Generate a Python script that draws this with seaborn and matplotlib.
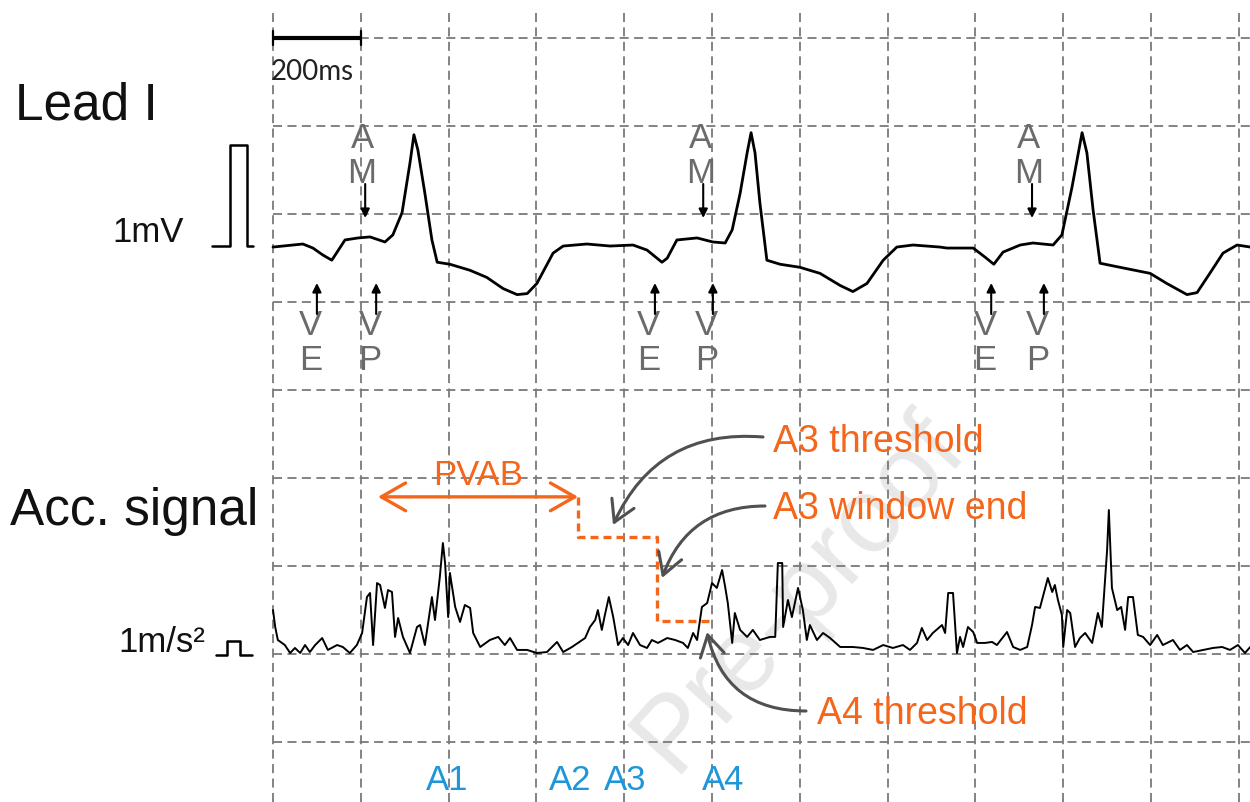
import numpy as np
import matplotlib
matplotlib.use("Agg")
import matplotlib.pyplot as plt
import seaborn as sns

# time grid: 200 ms per division
grid_ms = np.arange(0, 2201, 200)
grid_div = np.arange(0, 9)

# lead I trace (ms, mV)
ecg_t = [0, 68, 91, 114, 134, 146, 164, 194, 221, 255, 273, 294, 312, 321, 330, 346, 362, 374,
         403, 449, 487, 524, 556, 579, 601, 638, 661, 715, 768, 820, 852, 886, 898, 920, 966,
         1002, 1030, 1046, 1064, 1080, 1089, 1098, 1109, 1125, 1155, 1200, 1246, 1292, 1321,
         1353, 1390, 1421, 1458, 1519, 1535, 1595, 1622, 1642, 1663, 1702, 1731, 1777, 1797,
         1820, 1843, 1854, 1868, 1884, 1929, 1998, 2036, 2082, 2105, 2134, 2164, 2196, 2226]
ecg_mv = [-0.01, 0.02, -0.02, -0.09, -0.14, -0.06, 0.06, 0.08, 0.09, 0.04, 0.11, 0.33, 0.82, 1.10,
          0.95, 0.52, 0.06, -0.16, -0.18, -0.24, -0.31, -0.42, -0.48, -0.47, -0.37, -0.07, 0.0,
          0.02, 0.0, 0.01, -0.04, -0.16, -0.12, 0.06, 0.08, 0.04, 0.03, 0.16, 0.52, 0.92, 1.12,
          0.92, 0.43, -0.14, -0.18, -0.21, -0.27, -0.39, -0.45, -0.37, -0.14, -0.01, 0.01, -0.01,
          -0.02, -0.02, -0.11, -0.18, -0.06, 0.01, 0.03, 0.01, 0.11, 0.58, 1.12, 0.92, 0.36,
          -0.17, -0.21, -0.27, -0.37, -0.48, -0.46, -0.27, -0.07, 0.01, -0.01]

# accelerometer trace (ms, m/s^2)
acc_t = [0, 5, 11, 27, 39, 50, 62, 73, 84, 96, 112, 125, 146, 159, 175, 191, 203, 214, 221, 228,
         237, 244, 255, 262, 271, 278, 285, 296, 312, 328, 335, 346, 362, 369, 380, 387, 392, 399,
         403, 415, 426, 437, 449, 456, 472, 494, 513, 528, 540, 556, 579, 601, 624, 647, 661, 681,
         711, 722, 734, 740, 749, 756, 765, 775, 786, 797, 809, 820, 836, 852, 863, 877, 898, 916,
         934, 945, 957, 966, 977, 989, 1000, 1011, 1023, 1030, 1036, 1046, 1052, 1064, 1080, 1093,
         1109, 1132, 1144, 1150, 1160, 1162, 1173, 1182, 1196, 1207, 1216, 1223, 1239, 1253, 1269,
         1292, 1321, 1344, 1367, 1390, 1412, 1435, 1451, 1467, 1478, 1490, 1503, 1524, 1531, 1538,
         1549, 1558, 1565, 1572, 1583, 1595, 1604, 1622, 1638, 1649, 1672, 1686, 1702, 1718, 1729,
         1736, 1747, 1759, 1765, 1775, 1781, 1788, 1797, 1800, 1809, 1816, 1827, 1838, 1850, 1866,
         1879, 1888, 1900, 1904, 1911, 1923, 1932, 1941, 1948, 1959, 1970, 1982, 1998, 2014, 2027,
         2050, 2066, 2082, 2096, 2119, 2141, 2162, 2180, 2198, 2214, 2226]
acc_a = [3.21, 2.0, 1.07, 0.71, 0.14, 0.5, 0.14, 0.71, 0.21, 0.71, 1.21, 0.36, 0.71, 0.57, 0.14,
         0.71, 1.57, 4.14, 4.43, 0.71, 5.14, 5.0, 3.36, 4.64, 4.5, 1.29, 2.64, 1.29, 0.14, 2.0,
         2.14, 0.71, 4.14, 2.5, 5.57, 8.0, 6.57, 2.71, 5.86, 3.43, 2.36, 3.57, 3.36, 1.57, 0.57,
         1.07, 1.29, 0.71, 1.21, 0.36, 0.36, 0.14, 0.21, 0.93, 0.21, 0.57, 1.21, 2.0, 2.5, 3.21,
         1.79, 2.86, 4.14, 2.71, 0.71, 1.21, 0.71, 1.57, 0.71, 0.5, 1.07, 0.86, 1.21, 1.07, 0.86,
         0.5, 1.57, 1.07, 3.43, 3.71, 5.14, 4.79, 6.07, 4.86, 3.71, 0.86, 3.0, 1.79, 1.29, 1.79,
         1.07, 1.29, 1.29, 6.57, 6.57, 2.0, 3.93, 2.71, 4.79, 3.21, 1.07, 2.14, 1.07, 1.57, 1.21,
         0.57, 0.57, 0.5, 0.36, 0.71, 0.5, 0.71, 0.36, 0.86, 1.93, 1.07, 1.57, 2.14, 1.57, 4.43,
         4.43, 0.14, 1.29, 0.57, 2.0, 1.64, 0.86, 0.86, 0.93, 0.71, 1.64, 0.57, 0.36, 0.57, 2.14,
         3.43, 3.36, 4.79, 5.5, 4.5, 5.0, 3.93, 2.86, 0.57, 3.21, 3.0, 0.57, 1.21, 1.57, 0.86,
         3.0, 2.0, 7.5, 10.36, 4.79, 3.21, 3.43, 1.79, 4.14, 4.14, 1.43, 1.29, 0.71, 1.43, 0.71,
         1.07, 0.36, 0.71, 0.21, 0.36, 0.5, 0.57, 0.36, 0.71, 0.14, 0.57]

# pacing / sensing markers (ms)
am_times = [210, 980, 1729]
ve_times = [100, 870, 1636]
vp_times = [235, 1002, 1756]

# PVAB window and thresholds (ms, m/s^2)
pvab_t = [239, 695]
a3_end = 875
a4_end = 995
pvab_level = 11.3
a3_thr = 8.4
a4_thr = 2.4

acc_labels = ["A1", "A2", "A3", "A4"]
acc_label_t = [396, 677, 802, 1025]

# trace placement on the grid (in divisions)
ECG_BASE, ECG_SCALE = 5.636, 1.15
ACC_BASE, ACC_SCALE = 0.989, 0.159

GREY = "#6b6b6b"
ORANGE = "#f4661b"
BLUE = "#1e96d9"
DARK = "#505050"


def px(x, y):
    # reference pixel -> data (ms, divisions)
    return (x - 273) * 200 / 87.8, (742 - y) / 88


sns.set_theme(style="white")
plt.rcParams["font.family"] = ["Liberation Sans", "DejaVu Sans"]

fig = plt.figure(figsize=(12.5, 8.02), dpi=100)
ax = fig.add_axes([0, 0, 1, 1])
x0, y0 = px(0, 802)
x1, y1 = px(1250, 0)
ax.set_xlim(x0, x1)
ax.set_ylim(y0, y1)
ax.set_axis_off()

# watermark
wx, wy = px(800, 592)
ax.text(wx, wy, "Pre-proof", rotation=48, rotation_mode="anchor", ha="center", va="center",
        fontsize=76, color="#e8e8e8", zorder=0)

# dashed grid
ax.vlines(grid_ms, y0, px(0, 8)[1], colors="#7a7a7a", linestyles=(0, (5, 3)), lw=1.3, zorder=1)
ax.hlines(grid_div, 0, x1, colors="#7a7a7a", linestyles=(0, (5, 3)), lw=1.3, zorder=1)

# scale bar 200 ms
ax.plot([0, 200], [8, 8], color="black", lw=3, solid_capstyle="butt", zorder=3)
for t in [0, 200]:
    ax.plot([t, t], [7.92, 8.08], color="black", lw=1.6, zorder=3)
tx, ty = px(271, 80)
ax.text(tx, ty, "200ms", fontsize=20, family=["Lato", "DejaVu Sans"], color="#222222", va="baseline")

# traces
ecg_y = ECG_BASE + np.array(ecg_mv) * ECG_SCALE
acc_y = ACC_BASE + np.array(acc_a) * ACC_SCALE
sns.lineplot(x=ecg_t, y=ecg_y, ax=ax, color="black", lw=2.0, estimator=None, sort=False, zorder=4)
sns.lineplot(x=acc_t, y=acc_y, ax=ax, color="black", lw=1.4, estimator=None, sort=False, zorder=4)

# calibration pulses
cal_t = [-139, -98, -98, -59, -59, -46]
cal_step = np.array([0, 0, 1, 1, 0, 0])
ax.plot(cal_t, ECG_BASE + cal_step * 1.0 * ECG_SCALE, color="black", lw=1.8)
acc_cal_t = [-130, -105, -105, -75, -75, -48]
ax.plot(acc_cal_t, ACC_BASE + cal_step * 1.0 * ACC_SCALE, color="black", lw=1.8)

# left labels
for (x, y), s, size, ha in [((15, 120), "Lead I", 37, "left"),
                            ((10, 525), "Acc. signal", 37, "left"),
                            ((184, 242), "1mV", 25, "right"),
                            ((205, 652), "1m/s²", 25, "right")]:
    lx, ly = px(x, y)
    ax.text(lx, ly, s, fontsize=size, ha=ha, va="baseline", color="#111111")

# AM / VE / VP markers
arrow_kw = dict(arrowstyle="-|>", color="black", lw=1.5, mutation_scale=13, shrinkA=0, shrinkB=0)
for t in am_times:
    ax.annotate("", xy=(t, px(0, 218)[1]), xytext=(t, px(0, 184)[1]), arrowprops=arrow_kw, zorder=5)
    ax.text(t - 7, px(0, 148)[1], "A", fontsize=25, ha="center", va="baseline", color=GREY)
    ax.text(t - 7, px(0, 183)[1], "M", fontsize=25, ha="center", va="baseline", color=GREY)
for times, letter in [(ve_times, "E"), (vp_times, "P")]:
    for t in times:
        ax.annotate("", xy=(t, px(0, 283)[1]), xytext=(t, px(0, 314)[1]), arrowprops=arrow_kw, zorder=5)
        ax.text(t - 14, px(0, 335)[1], "V", fontsize=25, ha="center", va="baseline", color=GREY)
        ax.text(t - 14, px(0, 370)[1], letter, fontsize=25, ha="center", va="baseline", color=GREY)

# PVAB window and thresholds
pv_y = ACC_BASE + pvab_level * ACC_SCALE
ax.annotate("", xy=(pvab_t[0], pv_y), xytext=(pvab_t[1], pv_y),
            arrowprops=dict(arrowstyle="<->,head_length=0.7,head_width=0.4", color=ORANGE,
                            lw=2.4, mutation_scale=25, shrinkA=0, shrinkB=0))
a3_y = ACC_BASE + a3_thr * ACC_SCALE
a4_y = ACC_BASE + a4_thr * ACC_SCALE
ax.plot([pvab_t[1], pvab_t[1], a3_end, a3_end, a4_end], [pv_y, a3_y, a3_y, a4_y, a4_y],
        color=ORANGE, lw=2.4, linestyle=(0, (2.4, 1.5)), zorder=5)
ax.text(np.mean(pvab_t), px(0, 485)[1], "PVAB", fontsize=25, ha="center", va="baseline", color=ORANGE)

# callouts
for (tx0, ty0), (hx, hy), rad, txt, (lx, ly) in [
        ((763, 437), (613, 525), 0.35, "A3 threshold", (773, 452)),
        ((765, 506), (662, 578), 0.35, "A3 window end", (773, 519)),
        ((806, 711), (707, 632), -0.4, "A4 threshold", (817, 724))]:
    ax.annotate("", xy=px(hx, hy), xytext=px(tx0, ty0),
                arrowprops=dict(arrowstyle="->,head_length=0.6,head_width=0.35", color=DARK, lw=2.2,
                                mutation_scale=25, shrinkA=0, shrinkB=0,
                                connectionstyle=f"arc3,rad={rad}"), zorder=5)
    ax.text(*px(lx, ly), txt, fontsize=27, ha="left", va="baseline", color=ORANGE)

# acceleration feature labels
for t, s in zip(acc_label_t, acc_labels):
    ax.text(t, px(0, 790)[1], s, fontsize=25, ha="center", va="baseline", color=BLUE)

fig.savefig("out.png", dpi=100, facecolor="white")
